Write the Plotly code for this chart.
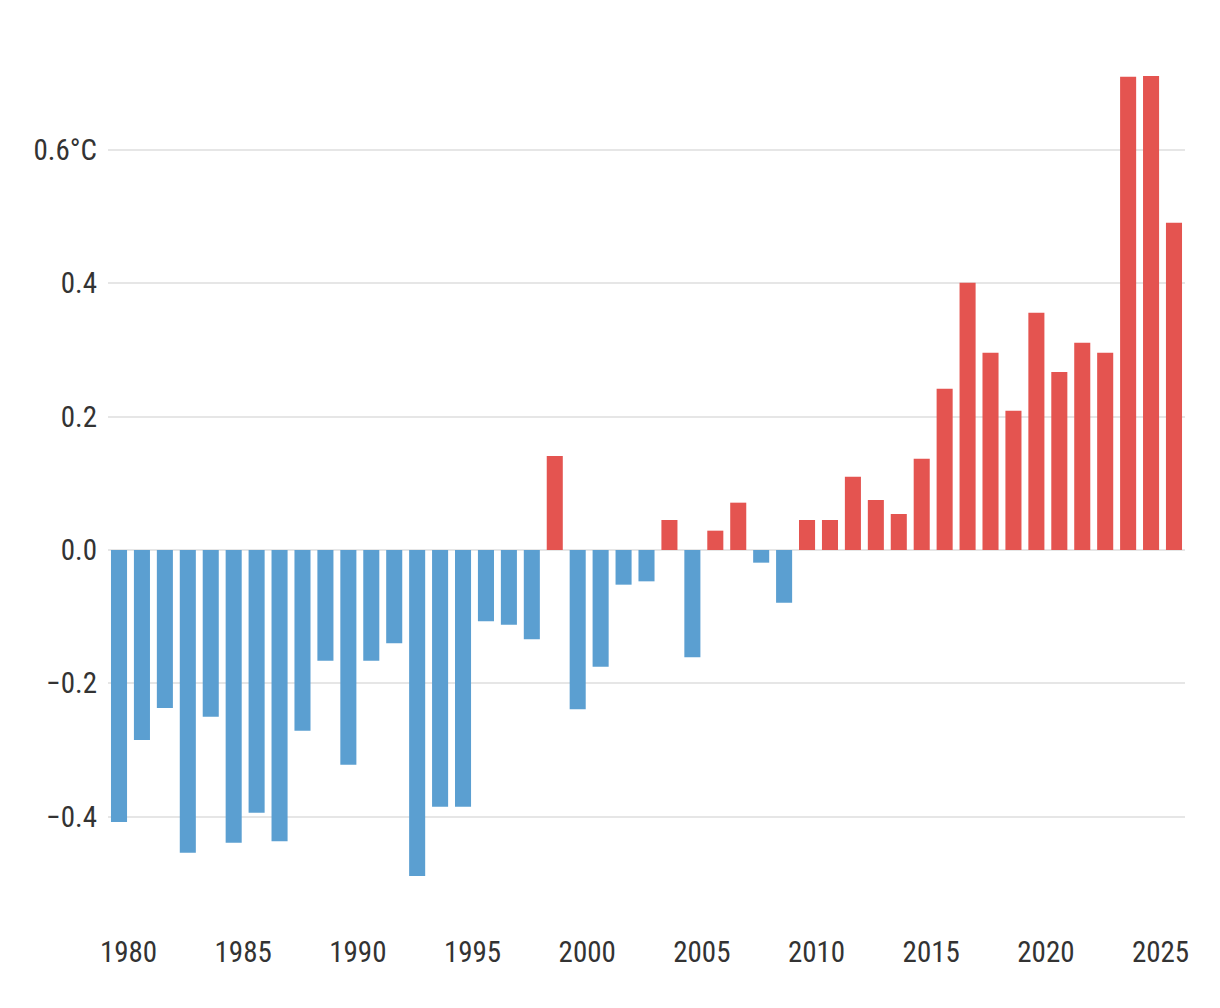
import plotly.graph_objects as go

years = list(range(1979, 2026))
anomaly = [
    -0.408, -0.285, -0.237, -0.454, -0.250, -0.439, -0.394, -0.437, -0.271, -0.166,
    -0.322, -0.166, -0.140, -0.489, -0.385, -0.385, -0.107, -0.112, -0.134, 0.141,
    -0.239, -0.175, -0.052, -0.047, 0.045, -0.161, 0.029, 0.071, -0.019, -0.079,
    0.045, 0.045, 0.110, 0.075, 0.054, 0.137, 0.242, 0.401, 0.296, 0.209,
    0.356, 0.267, 0.311, 0.296, 0.710, 0.711, 0.491,
]
x_label_years = [1980, 1985, 1990, 1995, 2000, 2005, 2010, 2015, 2020, 2025]
y_tick_values = [-0.4, -0.2, 0.0, 0.2, 0.4, 0.6]
y_tick_text = ["\u22120.4", "\u22120.2", "0.0", "0.2", "0.4", "0.6°C"]

BLUE = "#5b9fd1"
RED = "#e45450"
colors = [RED if v > 0 else BLUE for v in anomaly]

# labels sit slightly to the left of each year's bar in the original
label_offset = 0.586

fig = go.Figure(
    go.Bar(
        x=years,
        y=anomaly,
        marker=dict(color=colors, line=dict(width=0)),
        width=0.7,
        hoverinfo="x+y",
    )
)

font_family = "Roboto Condensed, Roboto, sans-serif"

fig.update_layout(
    width=1220,
    height=1008,
    margin=dict(l=100, r=43, t=62, b=106),
    plot_bgcolor="white",
    paper_bgcolor="white",
    showlegend=False,
    font=dict(family=font_family, size=29, color="#333333"),
    xaxis=dict(
        range=[1978.52, 2025.48],
        tickmode="array",
        tickvals=[y - label_offset for y in x_label_years],
        ticktext=[str(y) for y in x_label_years],
        showgrid=False,
        zeroline=False,
        showline=False,
        ticks="",
        ticklabelstandoff=22,
        fixedrange=True,
    ),
    yaxis=dict(
        range=[-0.54, 0.72],
        tickmode="array",
        tickvals=y_tick_values,
        ticktext=y_tick_text,
        showgrid=True,
        gridcolor="#e6e6e6",
        gridwidth=2,
        zeroline=True,
        zerolinecolor="#e6e6e6",
        zerolinewidth=2,
        showline=False,
        ticks="",
        ticklabelstandoff=10,
        fixedrange=True,
    ),
)

fig.write_html("out.html")
